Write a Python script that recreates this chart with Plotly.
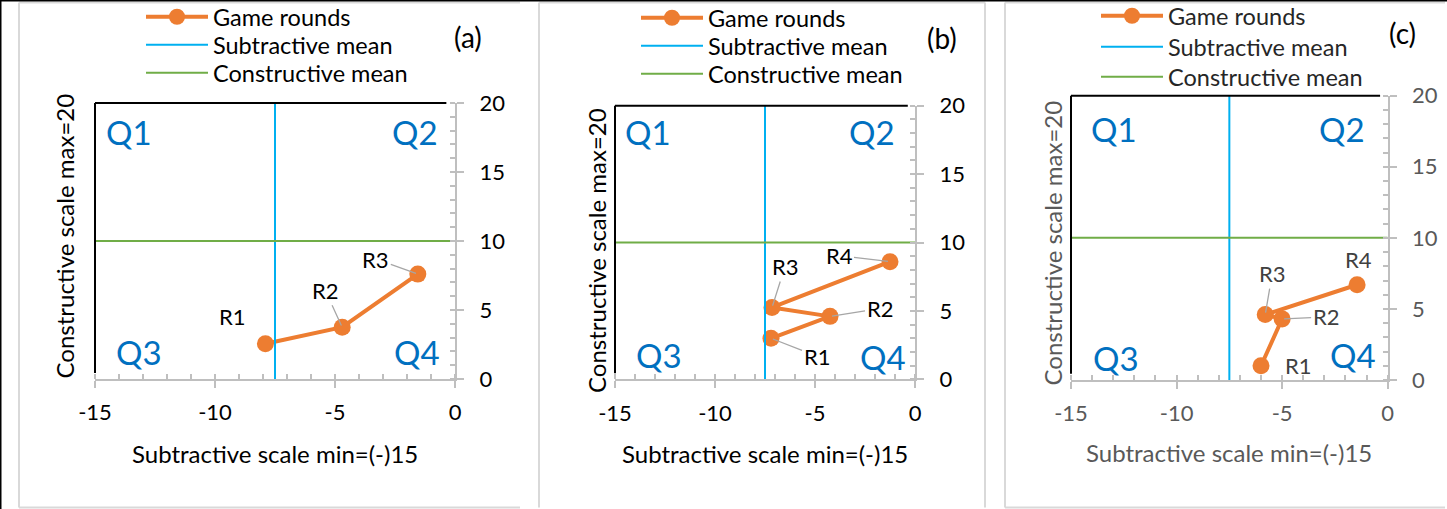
import plotly.graph_objects as go

W, H = 1447, 509

# ---------------- data ----------------
rounds_a = ["R1", "R2", "R3"]
subtractive_a = [-7.9, -4.7, -1.55]
constructive_a = [2.55, 3.75, 7.6]

rounds_b = ["R1", "R2", "R3", "R4"]
subtractive_b = [-7.2, -4.25, -7.15, -1.25]
constructive_b = [3.0, 4.6, 5.25, 8.6]

rounds_c = ["R1", "R2", "R3", "R4"]
subtractive_c = [-6.0, -5.0, -5.8, -1.45]
constructive_c = [1.0, 4.3, 4.6, 6.7]

subtractive_mean = -7.5
constructive_mean = 10
x_range = [-15, 0]
y_range = [0, 20]
x_tick_vals = [-15, -10, -5, 0]
x_tick_text = ["-15", "-10", "-5", "0"]
y_tick_vals = [0, 5, 10, 15, 20]
y_tick_text = ["0", "5", "10", "15", "20"]
panel_tags = ["(a)", "(b)", "(c)"]
quadrants = ["Q1", "Q2", "Q3", "Q4"]
series_names = ["Game rounds", "Subtractive mean", "Constructive mean"]
x_title = "Subtractive scale min=(-)15"
y_title = "Constructive scale max=20"

# ---------------- styles ----------------
ORANGE = "#ED7D31"
BLUE = "#00B0F0"
GREEN = "#70AD47"
QCOL = "#0070C0"
AXCOL = "#BFBFBF"
FRAME = "#D9D9D9"
FONT = "Lato"

panels = [
    dict(data=(rounds_a, subtractive_a, constructive_a), px=(95, 455), py=(379, 103),
         txt="#000000", lbl="#000000", legx=141, legy=(17, 45, 73), tag=(468, 37),
         qpos=[(0.095, 0.896), (0.889, 0.896), (0.122, 0.097), (0.894, 0.097)],
         ytitle=(63.5, 236), xtitle_y=453,
         frame=(19, 520, ("left", "top", "bottom")),
         offs=[(-33, -27, False), (-17, -37, True), (-42, -15, True)]),
    dict(data=(rounds_b, subtractive_b, constructive_b), px=(615, 915), py=(379.3, 105.7),
         txt="#000000", lbl="#000000", legx=636, legy=(18, 46, 74), tag=(942, 38),
         qpos=[(0.109, 0.903), (0.856, 0.903), (0.147, 0.089), (0.894, 0.083)],
         ytitle=(596, 251), xtitle_y=453,
         frame=(539, 985, ("left", "top", "right")),
         offs=[(46, 18, True), (50, -8, True), (13, -41, True), (-51, -6, True)]),
    dict(data=(rounds_c, subtractive_c, constructive_c), px=(1071, 1387.7), py=(380, 95.7),
         txt="#595959", lbl="#404040", legx=1096, legy=(16, 47, 77), tag=(1402, 33),
         qpos=[(0.136, 0.882), (0.855, 0.882), (0.141, 0.076), (0.891, 0.088)],
         ytitle=(1052.5, 243), xtitle_y=452,
         frame=(1005, 1445, ("left", "top", "bottom")),
         offs=[(37, 0, False), (44, -2, True), (7, -41, True), (1, -25, False)]),
]

fig = go.Figure()
annotations = []
shapes = []

# outer black edge
shapes.append(dict(type="line", xref="paper", yref="paper", x0=0, x1=1, y0=1, y1=1,
                   line=dict(color="#000000", width=3)))
shapes.append(dict(type="line", xref="paper", yref="paper", x0=0, x1=0, y0=0, y1=1,
                   line=dict(color="#000000", width=3)))

FT, FB = 1 - 2.5 / H, 1 - 507.5 / H

legend_layouts = {}
leg_idx = 0
for i, p in enumerate(panels):
    n = "" if i == 0 else str(i + 1)
    xa, ya = "x" + n, "y" + n
    rounds, sx, cy = p["data"]

    # panel frame (open sides like the reference)
    fx0, fx1, sides = p["frame"]
    fx0, fx1 = fx0 / W, fx1 / W
    seg = {"left": (fx0, FB, fx0, FT), "right": (fx1, FB, fx1, FT),
           "top": (fx0, FT, fx1, FT), "bottom": (fx0, FB, fx1, FB)}
    for sd in sides:
        a0, b0, a1, b1 = seg[sd]
        shapes.append(dict(type="line", xref="paper", yref="paper", x0=a0, y0=b0,
                           x1=a1, y1=b1, line=dict(color=FRAME, width=2), layer="below"))

    series = [
        dict(x=sx, y=cy, mode="lines+markers",
             line=dict(color=ORANGE, width=4), marker=dict(color=ORANGE, size=17)),
        dict(x=[subtractive_mean, subtractive_mean], y=y_range, mode="lines",
             line=dict(color=BLUE, width=2)),
        dict(x=x_range, y=[constructive_mean, constructive_mean], mode="lines",
             line=dict(color=GREEN, width=2)),
    ]
    for k, (s, name) in enumerate(zip(series, series_names)):
        leg_idx += 1
        legname = "legend" if leg_idx == 1 else "legend" + str(leg_idx)
        fig.add_trace(go.Scatter(name=name, xaxis=xa, yaxis=ya, legend=legname,
                                 cliponaxis=False, hoverinfo="skip", **s))
        legend_layouts[legname] = dict(
            x=p["legx"] / W, y=1 - p["legy"][k] / H, xanchor="left", yanchor="middle",
            bgcolor="rgba(0,0,0,0)", itemwidth=62, itemclick=False,
            font=dict(family=FONT, size=23.5, color="#000000" if i < 2 else "#262626"))

    dom_x = [p["px"][0] / W, p["px"][1] / W]
    dom_y = [1 - p["py"][0] / H, 1 - p["py"][1] / H]
    fig.update_layout(**{
        "xaxis" + n: dict(domain=dom_x, anchor=ya, range=x_range,
                          tickmode="array", tickvals=x_tick_vals, ticktext=x_tick_text,
                          showgrid=False, zeroline=False, showline=True,
                          linecolor=AXCOL, linewidth=2, ticks="outside", ticklen=7,
                          tickwidth=2, tickcolor=AXCOL, ticklabelstandoff=6,
                          tickfont=dict(family=FONT, size=22, color=p["txt"]),
                          minor=dict(dtick=1, tick0=0, ticks="inside", ticklen=5,
                                     tickcolor=AXCOL, tickwidth=2, showgrid=False)),
        "yaxis" + n: dict(domain=dom_y, anchor=xa, range=y_range, side="right",
                          tickmode="array", tickvals=y_tick_vals, ticktext=y_tick_text,
                          showgrid=False, zeroline=False, showline=True,
                          linecolor=AXCOL, linewidth=2, ticks="outside", ticklen=7,
                          tickwidth=2, tickcolor=AXCOL, ticklabelstandoff=11,
                          tickfont=dict(family=FONT, size=22, color=p["txt"]),
                          minor=dict(dtick=1, tick0=0, ticks="inside", ticklen=5,
                                     tickcolor=AXCOL, tickwidth=2, showgrid=False)),
    })

    # black left and top borders of the plot area
    shapes.append(dict(type="line", xref=xa + " domain", yref=ya + " domain",
                       x0=0, x1=0, y0=0.022, y1=1, line=dict(color="#000000", width=2)))
    shapes.append(dict(type="line", xref=xa + " domain", yref=ya + " domain",
                       x0=0, x1=0.976, y0=1, y1=1, line=dict(color="#000000", width=2)))

    # quadrant labels
    for q, (qx, qy) in zip(quadrants, p["qpos"]):
        annotations.append(dict(text=q, xref=xa + " domain", yref=ya + " domain",
                                x=qx, y=qy, showarrow=False, xanchor="center",
                                yanchor="middle",
                                font=dict(family=FONT, size=33, color=QCOL)))

    # data labels
    for r, x, y, (dx, dy, leader) in zip(rounds, sx, cy, p["offs"]):
        if leader:
            annotations.append(dict(text=r, x=x, y=y, xref=xa, yref=ya, showarrow=True,
                                    ax=dx, ay=dy, arrowhead=0, arrowwidth=1.3,
                                    arrowcolor="#A6A6A6", standoff=2,
                                    font=dict(family=FONT, size=22, color=p["lbl"])))
        else:
            annotations.append(dict(text=r, x=x, y=y, xref=xa, yref=ya, showarrow=False,
                                    xanchor="center", yanchor="middle",
                                    xshift=dx, yshift=-dy,
                                    font=dict(family=FONT, size=22, color=p["lbl"])))

    # panel tag
    annotations.append(dict(text=panel_tags[i], xref="paper", yref="paper",
                            x=p["tag"][0] / W, y=1 - p["tag"][1] / H, showarrow=False,
                            xanchor="center", yanchor="middle",
                            font=dict(family=FONT, size=28, color="#000000")))
    # axis titles
    annotations.append(dict(text=x_title, xref="paper", yref="paper",
                            x=(p["px"][0] + p["px"][1]) / 2 / W, y=1 - p["xtitle_y"] / H,
                            showarrow=False, xanchor="center", yanchor="middle",
                            font=dict(family=FONT, size=24, color=p["txt"])))
    annotations.append(dict(text=y_title, xref="paper", yref="paper",
                            x=p["ytitle"][0] / W, y=1 - p["ytitle"][1] / H,
                            showarrow=False, textangle=-90, xanchor="center",
                            yanchor="middle",
                            font=dict(family=FONT, size=24, color=p["txt"])))

fig.update_layout(width=W, height=H,
                  margin=dict(l=0, r=0, t=0, b=0, pad=0, autoexpand=False),
                  paper_bgcolor="white", plot_bgcolor="white",
                  annotations=annotations, shapes=shapes, showlegend=True,
                  hovermode=False, **legend_layouts)

fig.write_html("out.html", config={"displayModeBar": False},
               post_script="document.body.style.margin='0';"
                           "document.body.style.overflow='hidden';")
